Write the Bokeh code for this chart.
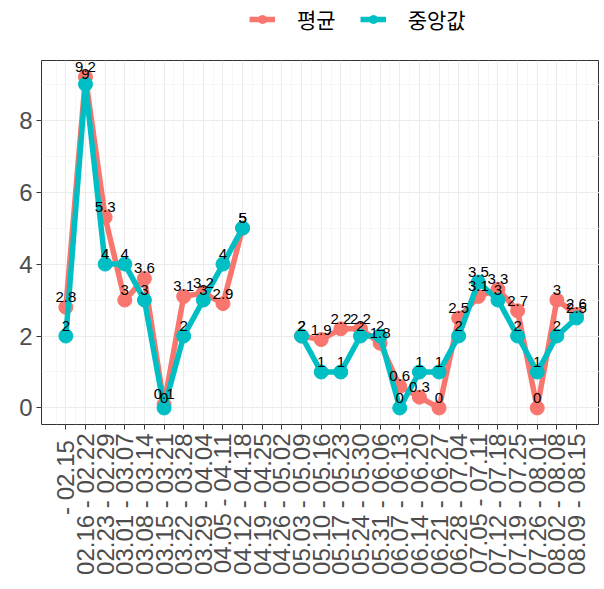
import numpy as np
from bokeh.plotting import figure
from bokeh.layouts import column
from bokeh.models import ColumnDataSource, FixedTicker, Legend, LegendItem, Range1d
from bokeh.embed import file_html
from bokeh.resources import INLINE
from bokeh.core.properties import value

# ---- data ----
weeks = [
    " - 02.15",
    "02.16 - 02.22", "02.23 - 02.29", "03.01 - 03.07", "03.08 - 03.14",
    "03.15 - 03.21", "03.22 - 03.28", "03.29 - 04.04", "04.05 - 04.11",
    "04.12 - 04.18", "04.19 - 04.25", "04.26 - 05.02", "05.03 - 05.09",
    "05.10 - 05.16", "05.17 - 05.23", "05.24 - 05.30", "05.31 - 06.06",
    "06.07 - 06.13", "06.14 - 06.20", "06.21 - 06.27", "06.28 - 07.04",
    "07.05 - 07.11", "07.12 - 07.18", "07.19 - 07.25", "07.26 - 08.01",
    "08.02 - 08.08", "08.09 - 08.15",
]
mean_vals = [2.8, 9.2, 5.3, 3.0, 3.6, 0.1, 3.1, 3.2, 2.9, 5.0, None, None,
             2.0, 1.9, 2.2, 2.2, 1.8, 0.6, 0.3, 0.0, 2.5, 3.1, 3.3, 2.7, 0.0, 3.0, 2.6]
median_vals = [2, 9, 4, 4, 3, 0, 2, 3, 4, 5, None, None,
               2, 1, 1, 2, 2, 0, 1, 1, 2, 3.5, 3, 2, 1, 2, 2.5]
series_names = ["평균", "중앙값"]
series_colors = ["#F8766D", "#00BFC4"]
y_ticks = [0, 2, 4, 6, 8]

FONT = "Liberation Sans"
FW, FH = 558, 364
TOTAL_W = 41 + FW

p = figure(frame_width=FW, frame_height=FH, output_backend="svg", toolbar_location=None,
           x_range=Range1d(-1.24, 27.17), y_range=Range1d(-0.46, 9.66),
           min_border_left=41, min_border_right=0, min_border_top=0,
           min_border_bottom=0)
p.background_fill_color = "white"
p.border_fill_color = "white"
p.outline_line_color = "#333333"
p.outline_line_width = 1

n = len(weeks)
xs = list(range(n))
x_ticker = FixedTicker(ticks=xs, minor_ticks=[i + 0.5 for i in range(-2, n + 1)])
y_ticker = FixedTicker(ticks=y_ticks, minor_ticks=[1, 3, 5, 7, 9])
p.xaxis.ticker = x_ticker
p.yaxis.ticker = y_ticker
p.xgrid.ticker = x_ticker
p.ygrid.ticker = y_ticker
for g in (p.xgrid, p.ygrid):
    g.grid_line_color = "#EBEBEB"
    g.grid_line_width = 1.1
    g.minor_grid_line_color = "#F3F3F3"
    g.minor_grid_line_width = 0.7

p.xaxis.major_label_overrides = {i: weeks[i] for i in xs}
p.xaxis.major_label_orientation = np.pi / 2
for ax in (p.xaxis, p.yaxis):
    ax.axis_line_color = None
    ax.major_tick_line_color = "#333333"
    ax.major_tick_out = 5
    ax.major_tick_in = 0
    ax.minor_tick_line_color = None
    ax.major_label_text_color = "#4D4D4D"
    ax.major_label_text_font = FONT
p.xaxis.major_label_text_font_size = "24px"
p.yaxis.major_label_text_font_size = "24px"
p.xaxis.major_label_standoff = 4
p.yaxis.major_label_standoff = 4

# legend strip above the plot (its own small figure)
lf = figure(width=TOTAL_W, height=60, output_backend="svg", toolbar_location=None,
            x_range=Range1d(1000, 1001), y_range=Range1d(1000, 1001),
            x_axis_location=None, y_axis_location=None,
            min_border_left=0, min_border_right=0, min_border_top=0,
            min_border_bottom=0)
lf.grid.visible = False
lf.outline_line_color = None
lf.background_fill_color = "white"
lf.border_fill_color = "white"

items = []
for vals, name, col in zip([mean_vals, median_vals], series_names, series_colors):
    y = [np.nan if v is None else float(v) for v in vals]
    src = ColumnDataSource(dict(x=xs, y=y))
    p.line("x", "y", source=src, line_color=col, line_width=5.5)
    p.scatter("x", "y", source=src, size=14, fill_color=col, line_color=col)
    # same series in the legend strip (outside its visible range) for legend glyphs
    ln = lf.line("x", "y", source=src, line_color=col, line_width=5.5)
    sc = lf.scatter("x", "y", source=src, size=14, fill_color=col, line_color=col)
    items.append(LegendItem(label=name, renderers=[ln, sc]))

for vals in [mean_vals, median_vals]:
    lx = [i for i, v in zip(xs, vals) if v is not None]
    ly = [float(v) for v in vals if v is not None]
    lt = [f"{v:g}" for v in vals if v is not None]
    lsrc = ColumnDataSource(dict(x=lx, y=ly, t=lt))
    p.text("x", "y", text="t", source=lsrc, text_font=value(FONT),
           text_font_size="15px", text_align="center", text_baseline="middle",
           y_offset=-10, text_color="black")

legend = Legend(items=items, orientation="horizontal", location=(208, 26),
                label_text_font="Noto Sans CJK KR", label_text_font_size="21px",
                label_text_color="black", glyph_width=26, glyph_height=20,
                label_standoff=22, spacing=24, padding=2, margin=0,
                border_line_color=None, background_fill_alpha=0)
lf.add_layout(legend)

layout = column(lf, p, spacing=0)
open("out.html", "w").write(file_html(layout, INLINE))
